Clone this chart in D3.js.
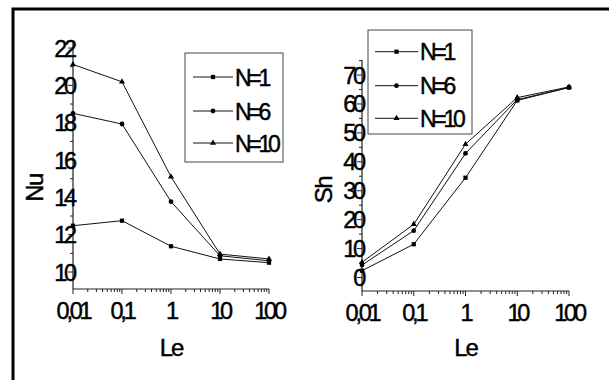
<!DOCTYPE html>
<html><head><meta charset="utf-8">
<script src="https://cdn.jsdelivr.net/npm/d3@7"></script>
<style>
body{margin:0;background:#fff;}
text{font-family:"Liberation Sans",Arial,sans-serif;fill:#000;stroke:#000;stroke-width:0.45;}
</style></head>
<body>
<svg id="c" width="609" height="380"></svg>
<script>
const le = [0.01, 0.1, 1, 10, 100];
const xTickLabels = ["0,01", "0,1", "1", "10", "100"];
const seriesNames = ["N=1", "N=6", "N=10"];
const nuN1 = [12.48, 12.75, 11.38, 10.7, 10.5];
const nuN6 = [18.5, 17.93, 13.77, 10.87, 10.6];
const nuN10 = [21.12, 20.19, 15.1, 10.96, 10.7];
const shN1 = [2.35, 11.5, 34.5, 61.2, 65.7];
const shN6 = [4.3, 16.2, 42.9, 61.5, 65.7];
const shN10 = [5.25, 18.4, 46.1, 62.2, 65.9];
const nuTicks = [10, 12, 14, 16, 18, 20, 22];
const shTicks = [0, 10, 20, 30, 40, 50, 60, 70];

const svg = d3.select("#c");
svg.append("rect").attr("x",13).attr("y",9).attr("width",800).attr("height",600)
  .attr("fill","none").attr("stroke","#000").attr("stroke-width",3);

const symbols = [d3.symbolSquare, d3.symbolCircle, d3.symbolTriangle];
const symSize = [18, 18, 16];

function chart(o){
  const x = d3.scaleLog().domain([0.01,100]).range([o.x0,o.x1]);
  const y = d3.scaleLinear().domain(o.yd).range([o.yb,o.yt]);
  const g = svg.append("g");
  // x axis
  const xa = g.append("g").attr("transform",`translate(0,${o.yb})`);
  xa.append("line").attr("x1",o.x0).attr("x2",o.x1).attr("stroke","#222").attr("stroke-width",1.2);
  const minor = [];
  for(let e=-2;e<2;e++) for(let k=2;k<10;k++) minor.push(k*Math.pow(10,e));
  xa.selectAll("line.mn").data(minor).join("line").attr("x1",d=>x(d)).attr("x2",d=>x(d))
    .attr("y1",0).attr("y2",3).attr("stroke","#222");
  xa.selectAll("line.mj").data(le).join("line").attr("x1",d=>x(d)).attr("x2",d=>x(d))
    .attr("y1",0).attr("y2",5).attr("stroke","#222");
  xa.selectAll("text").data(le).join("text").attr("x",d=>x(d)).attr("y",30)
    .attr("text-anchor","middle").attr("font-size",23.5).attr("letter-spacing",-3.2)
    .text((d,i)=>xTickLabels[i]);
  // y axis
  const ya = g.append("g").attr("transform",`translate(${o.x0},0)`);
  ya.append("line").attr("y1",o.yb).attr("y2",o.yt).attr("stroke","#222").attr("stroke-width",1.2);
  const step = o.ticks[1]-o.ticks[0];
  const ymin = o.ticks.map(t=>t+step/2).filter(t=>t<o.yd[1]);
  ya.selectAll("line.mn").data(ymin).join("line").attr("y1",d=>y(d)).attr("y2",d=>y(d))
    .attr("x1",0).attr("x2",-3).attr("stroke","#222");
  ya.selectAll("line.mj").data(o.ticks).join("line").attr("y1",d=>y(d)).attr("y2",d=>y(d))
    .attr("x1",0).attr("x2",-5).attr("stroke","#222");
  ya.selectAll("text").data(o.ticks).join("text").attr("x",1).attr("y",d=>y(d)+8.5)
    .attr("text-anchor","end").attr("font-size",23.5).attr("letter-spacing",-3.2)
    .text(d=>d);
  // titles
  g.append("text").attr("x",(o.x0+o.x1)/2).attr("y",356).attr("text-anchor","middle")
    .attr("font-size",24).attr("letter-spacing",-2).text("Le");
  g.append("text").attr("transform",`translate(${o.tx},${o.ty}) rotate(-90)`)
    .attr("text-anchor","middle").attr("font-size",24).attr("letter-spacing",-1.5).text(o.title);
  // series
  const line = d3.line().x((d,i)=>x(le[i])).y(d=>y(d));
  o.series.forEach((s,si)=>{
    g.append("path").attr("d",line(s)).attr("fill","none").attr("stroke","#111").attr("stroke-width",1);
    g.selectAll(null).data(s).join("path")
      .attr("transform",(d,i)=>`translate(${x(le[i])},${y(d)})`)
      .attr("d",d3.symbol().type(symbols[si]).size(symSize[si])).attr("fill","#000");
  });
  // legend
  const L = o.leg;
  g.append("rect").attr("x",L.x).attr("y",L.y).attr("width",L.w).attr("height",L.h)
    .attr("fill","#fff").attr("stroke","#444").attr("stroke-width",1);
  seriesNames.forEach((n,i)=>{
    const yy = L.rows[i];
    g.append("line").attr("x1",L.lx0).attr("x2",L.lx1).attr("y1",yy).attr("y2",yy).attr("stroke","#111");
    g.append("path").attr("transform",`translate(${(L.lx0+L.lx1)/2},${yy})`)
      .attr("d",d3.symbol().type(symbols[i]).size(symSize[i])).attr("fill","#000");
    g.append("text").attr("x",L.lx1+2).attr("y",yy+8.5).attr("font-size",23).attr("letter-spacing",-3.3).text(n);
  });
}

chart({x0:73,x1:269,yd:[9.09,22.27],yb:289,yt:43,ticks:nuTicks,title:"Nu",tx:43,ty:188,
  series:[nuN1,nuN6,nuN10],
  leg:{x:185,y:53,w:98,h:109,rows:[77,111,143],lx0:193,lx1:233}});
chart({x0:362,x1:569,yd:[-4.67,75.2],yb:291,yt:60,ticks:shTicks,title:"Sh",tx:332,ty:190,
  series:[shN1,shN6,shN10],
  leg:{x:368,y:30,w:104,h:104,rows:[51.7,85.7,118.3],lx0:375,lx1:418}});
</script>
</body></html>
